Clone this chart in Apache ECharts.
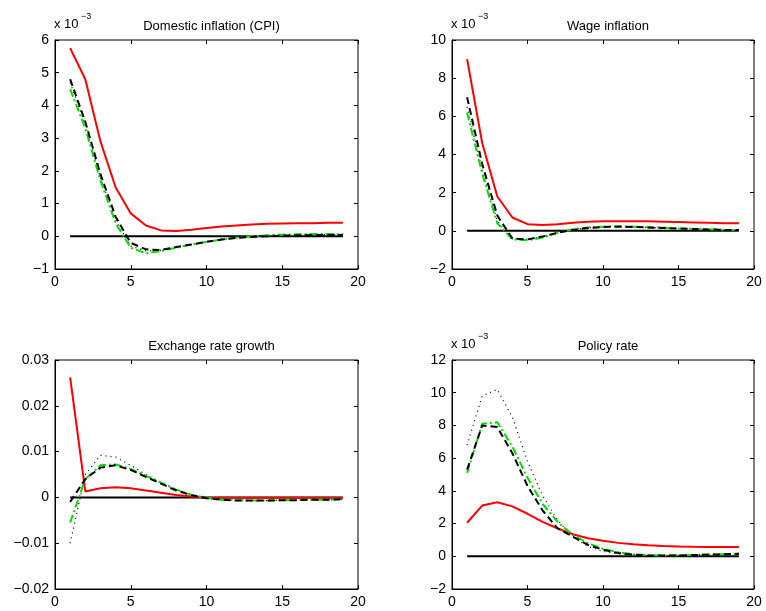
<!DOCTYPE html>
<html><head><meta charset="utf-8">
<script src="https://cdn.jsdelivr.net/npm/echarts@6/dist/echarts.min.js"></script>
<style>html,body{margin:0;padding:0;background:#fff}#c{width:766px;height:611px}</style>
</head><body><div id="c"></div>
<script>
const periods = [1,2,3,4,5,6,7,8,9,10,11,12,13,14,15,16,17,18,19];
const titles = ["Domestic inflation (CPI)","Wage inflation","Exchange rate growth","Policy rate"];
const cpiRed = [5.75,4.8,2.9,1.5,0.7,0.33,0.18,0.16,0.2,0.25,0.3,0.33,0.36,0.38,0.39,0.4,0.4,0.41,0.41];
const cpiDash = [4.8,3.5,1.9,0.6,-0.2,-0.4,-0.42,-0.33,-0.25,-0.17,-0.1,-0.05,-0.02,0,0.02,0.03,0.04,0.04,0.04];
const cpiGreen = [4.5,3.3,1.7,0.4,-0.35,-0.52,-0.45,-0.35,-0.25,-0.17,-0.1,-0.04,0,0.03,0.05,0.06,0.07,0.07,0.07];
const cpiDot = [4.7,3.4,1.8,0.5,-0.3,-0.45,-0.42,-0.34,-0.25,-0.17,-0.1,-0.05,-0.01,0.01,0.03,0.04,0.05,0.05,0.05];
const wageRed = [9,4.6,1.8,0.7,0.35,0.3,0.35,0.42,0.47,0.5,0.5,0.5,0.5,0.48,0.46,0.44,0.42,0.4,0.4];
const wageDash = [7,3.5,0.8,-0.4,-0.45,-0.3,-0.1,0.05,0.15,0.2,0.22,0.2,0.18,0.15,0.12,0.1,0.07,0.05,0.04];
const wageGreen = [6.2,3,0.4,-0.45,-0.5,-0.35,-0.1,0.08,0.18,0.22,0.24,0.22,0.19,0.16,0.12,0.1,0.08,0.05,0.03];
const wageDot = [6.5,3.2,0.5,-0.4,-0.45,-0.3,-0.1,0.06,0.16,0.21,0.22,0.2,0.18,0.15,0.12,0.1,0.07,0.05,0.04];
const fxRed = [0.0262,0.0013,0.002,0.0022,0.002,0.0015,0.001,0.0005,0.0002,0,-0.0001,-0.0001,-0.0001,-0.0001,-0.0001,-0.0001,-0.0001,-0.0001,-0.0001];
const fxDash = [-0.001,0.004,0.0065,0.007,0.006,0.0045,0.003,0.0015,0.0005,-0.0002,-0.0005,-0.0007,-0.0007,-0.0007,-0.0006,-0.0006,-0.0005,-0.0005,-0.0004];
const fxGreen = [-0.0055,0.004,0.007,0.0072,0.0062,0.0047,0.0032,0.0017,0.0006,-0.0001,-0.0005,-0.0006,-0.0007,-0.0007,-0.0006,-0.0006,-0.0005,-0.0005,-0.0004];
const fxDot = [-0.01,0.005,0.0092,0.0088,0.007,0.005,0.0033,0.0017,0.0005,-0.0002,-0.0006,-0.0007,-0.0007,-0.0007,-0.0006,-0.0006,-0.0005,-0.0005,-0.0004];
const polRed = [2.05,3.1,3.3,3.05,2.6,2.1,1.7,1.35,1.1,0.95,0.82,0.73,0.67,0.63,0.6,0.58,0.57,0.57,0.57];
const polDash = [5.3,8,7.9,6.3,4.3,2.8,1.7,1.2,0.7,0.4,0.2,0.1,0.05,0.05,0.05,0.08,0.1,0.12,0.15];
const polGreen = [5.1,8.1,8.2,6.7,4.8,3.2,2.1,1.3,0.8,0.45,0.25,0.12,0.07,0.05,0.06,0.08,0.11,0.13,0.15];
const polDot = [6.8,9.8,10.2,8.5,5.8,3.7,2.2,1.2,0.6,0.3,0.15,0.1,0.08,0.07,0.07,0.09,0.11,0.13,0.15];
const zeros = periods.map(() => 0);
const yRanges = [[-1,6,1],[-2,10,2],[-0.02,0.03,0.01],[-2,12,2]];
const panels = [[cpiRed,cpiDash,cpiGreen,cpiDot],[wageRed,wageDash,wageGreen,wageDot],[fxRed,fxDash,fxGreen,fxDot],[polRed,polDash,polGreen,polDot]];
const grids = [
  {left:55,top:40,width:303,height:229},
  {left:452,top:40,width:302,height:229},
  {left:55,top:360,width:303,height:229},
  {left:452,top:360,width:302,height:229}
];
const font = 'Liberation Sans, Arial, sans-serif';
const opt = {animation:false, grid:[], xAxis:[], yAxis:[], series:[], title:[], graphic:[]};
grids.forEach((g,i)=>{
  opt.grid.push(Object.assign({show:true,borderColor:'#000',borderWidth:1,backgroundColor:'#fff'},g));
  const tick = {show:true,inside:true,length:4,lineStyle:{color:'#000'}};
  const lab = {color:'#000',fontSize:14,fontFamily:font,margin:6};
  opt.xAxis.push({type:'value',gridIndex:i,min:0,max:20,interval:5,axisLine:{show:true,onZero:false,lineStyle:{color:'#000'}},axisTick:tick,splitLine:{show:false},axisLabel:lab});
  opt.xAxis.push({type:'value',gridIndex:i,position:'top',min:0,max:20,interval:5,axisLine:{show:false,onZero:false},axisTick:tick,splitLine:{show:false},axisLabel:{show:false}});
  const r = yRanges[i];
  opt.yAxis.push({type:'value',gridIndex:i,min:r[0],max:r[1],interval:r[2],axisLine:{show:true,onZero:false,lineStyle:{color:'#000'}},axisTick:tick,splitLine:{show:false},axisLabel:Object.assign({formatter:v=>String(+v.toFixed(3)).replace('-','\u2212')},lab)});
  opt.yAxis.push({type:'value',gridIndex:i,position:'right',min:r[0],max:r[1],interval:r[2],axisLine:{show:false,onZero:false},axisTick:tick,splitLine:{show:false},axisLabel:{show:false}});
  const xi = 2*i, yi = 2*i;
  const mk = (d,style)=>({type:'line',xAxisIndex:xi,yAxisIndex:yi,symbol:'none',data:periods.map((p,k)=>[p,d[k]]),lineStyle:style});
  const [red,dash,green,dot] = panels[i];
  opt.series.push(mk(zeros,{color:'#000',width:2,type:'solid'}));
  opt.series.push(mk(dot,{color:'#000',width:1.2,type:[1,4]}));
  opt.series.push(mk(red,{color:'#ff0000',width:2,type:'solid'}));
  opt.series.push(mk(green,{color:'#00e000',width:2,type:[8,3,2,3]}));
  opt.series.push(mk(dash,{color:'#000',width:2,type:[7,4]}));
  opt.title.push({text:titles[i],left:g.left+g.width/2,textAlign:'center',top:g.top-25,textStyle:{fontSize:13,fontWeight:'normal',color:'#000',fontFamily:font}});
  if(i!==2){
    opt.graphic.push({type:'text',left:g.left-1,top:g.top-22,style:{text:'x 10',fontSize:13,fill:'#000',fontFamily:font}});
    opt.graphic.push({type:'text',left:g.left+26,top:g.top-28,style:{text:'\u22123',fontSize:9,fill:'#000',fontFamily:font}});
  }
});
echarts.init(document.getElementById('c')).setOption(opt);
</script></body></html>
